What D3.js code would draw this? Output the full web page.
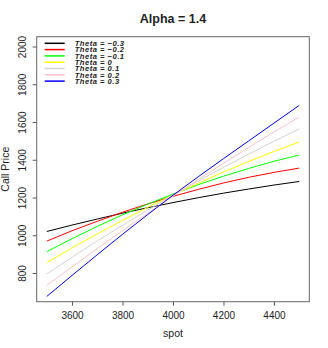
<!DOCTYPE html>
<html>
<head>
<meta charset="utf-8">
<script src="https://cdn.jsdelivr.net/npm/d3@7"></script>
<style>
  body { margin: 0; background: #fff; }
  text { font-family: "Liberation Sans", Arial, sans-serif; fill: #222; }
</style>
</head>
<body>
<div class="chart"></div>
<script>
// spot grid and call prices
var spots = [3500, 3600, 3700, 3800, 3900, 4000, 4100, 4200, 4300, 4400, 4500];
var thetaM3 = [1020, 1054, 1086, 1117, 1146, 1173, 1199, 1223, 1245, 1266, 1285];
var thetaM2 = [969, 1024, 1074, 1122, 1166, 1206, 1243, 1277, 1307, 1333, 1356];
var thetaM1 = [913, 982, 1047, 1108, 1165, 1218, 1268, 1313, 1354, 1392, 1425];
var theta0  = [855, 933, 1007, 1079, 1148, 1213, 1275, 1335, 1391, 1444, 1494];
var thetaP1 = [795, 884, 970, 1053, 1134, 1212, 1287, 1360, 1430, 1498, 1563];
var thetaP2 = [734, 833, 930, 1024, 1117, 1207, 1295, 1381, 1465, 1547, 1626];
var thetaP3 = [676, 787, 897, 1005, 1110, 1212, 1310, 1406, 1500, 1594, 1688];

var seriesNames = ["Theta = \u22120.3", "Theta = \u22120.2", "Theta = \u22120.1", "Theta = 0",
                   "Theta = 0.1", "Theta = 0.2", "Theta = 0.3"];
var seriesColors = ["black", "red", "#00ff00", "yellow", "#d3d3d3", "pink", "blue"];
var seriesValues = [thetaM3, thetaM2, thetaM1, theta0, thetaP1, thetaP2, thetaP3];

var xTicks = [3600, 3800, 4000, 4200, 4400];
var yTicks = [800, 1000, 1200, 1400, 1600, 1800, 2000];

var svgWidth = 328, svgHeight = 348;
var margin = { top: 36.7, right: 18.7, bottom: 46.3, left: 36.7 };
var width = svgWidth - margin.left - margin.right;
var height = svgHeight - margin.top - margin.bottom;

var svg = d3.select(".chart")
            .append("svg")
            .attr("width", svgWidth)
            .attr("height", svgHeight);

var chartGroup = svg.append("g")
                    .attr("transform", `translate(${margin.left}, ${margin.top})`);

// R style 4% padding around xlim / ylim
var xScale = d3.scaleLinear().domain([3460, 4540]).range([0, width]);
var yScale = d3.scaleLinear().domain([648, 2052]).range([height, 0]);

// lines
var line = d3.line()
             .x((d, i) => xScale(spots[i]))
             .y(d => yScale(d));

seriesValues.forEach(function (vals, k) {
  chartGroup.append("path")
            .datum(vals)
            .attr("d", line)
            .attr("fill", "none")
            .attr("stroke", seriesColors[k])
            .attr("stroke-width", 1);
});

// axes
var bottomAxis = d3.axisBottom(xScale).tickValues(xTicks).tickFormat(d3.format("d"))
                   .tickSize(4).tickPadding(6);
var leftAxis = d3.axisLeft(yScale).tickValues(yTicks).tickFormat(d3.format("d")).tickSize(4);

var gx = chartGroup.append("g")
                   .attr("transform", `translate(0, ${height})`)
                   .call(bottomAxis);
gx.select(".domain").remove();
gx.selectAll("line").attr("stroke", "#555");
gx.selectAll("text").attr("font-size", 10).attr("fill", "#222");

var gy = chartGroup.append("g").call(leftAxis);
gy.select(".domain").remove();
gy.selectAll("line").attr("stroke", "#555");
gy.selectAll("text")
  .attr("font-size", 10)
  .attr("fill", "#222")
  .attr("text-anchor", "middle")
  .attr("transform", "rotate(-90)")
  .attr("x", 0)
  .attr("y", -10.5)
  .attr("dy", 0);

// plot box
chartGroup.append("rect")
          .attr("width", width)
          .attr("height", height)
          .attr("fill", "none")
          .attr("stroke", "#666")
          .attr("stroke-width", 1);

// legend (rows are tight, as in the original)
var legend = chartGroup.append("g").attr("transform", "translate(8, 6.6)");
seriesNames.forEach(function (name, k) {
  var yy = k * 6.3;
  legend.append("line")
        .attr("x1", 0).attr("x2", 20)
        .attr("y1", yy).attr("y2", yy)
        .attr("stroke", seriesColors[k])
        .attr("stroke-width", 1.5);
  legend.append("text")
        .attr("x", 30)
        .attr("y", yy + 2.8)
        .attr("font-size", 7.6)
        .attr("letter-spacing", 0.5)
        .attr("font-weight", "bold")
        .attr("font-style", "italic")
        .text(name);
});

// title and axis labels
svg.append("text")
   .attr("x", margin.left + width / 2)
   .attr("y", 23)
   .attr("text-anchor", "middle")
   .attr("font-size", 12.5)
   .attr("font-weight", "bold")
   .text("Alpha = 1.4");

svg.append("text")
   .attr("x", margin.left + width / 2)
   .attr("y", 337)
   .attr("text-anchor", "middle")
   .attr("font-size", 10.5)
   .text("spot");

svg.append("text")
   .attr("transform", `translate(9, ${margin.top + height / 2}) rotate(-90)`)
   .attr("text-anchor", "middle")
   .attr("font-size", 10.5)
   .text("Call Price");
</script>
</body>
</html>
